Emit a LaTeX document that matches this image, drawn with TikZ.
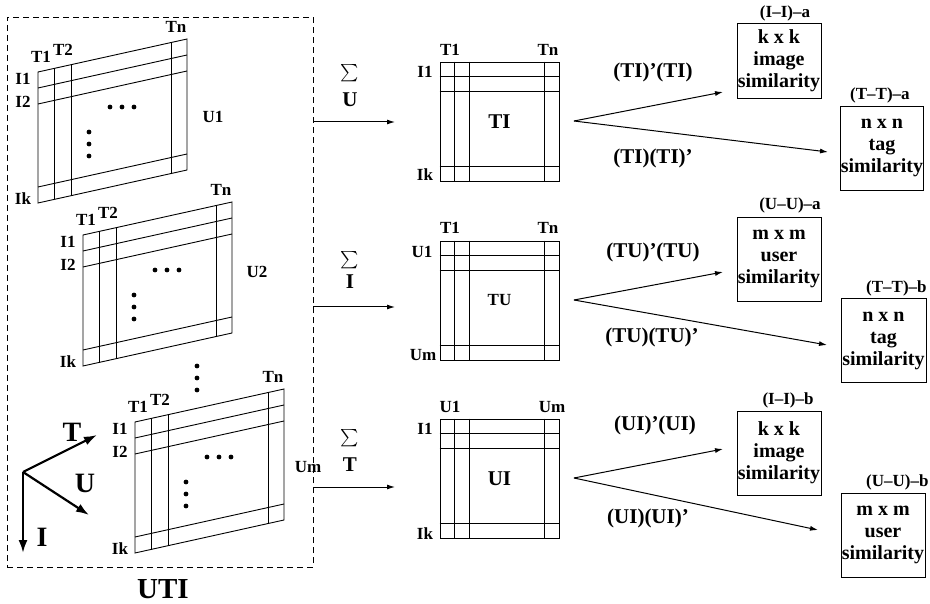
\documentclass[tikz,border=0pt]{standalone}
\usepackage{exscale}
\usepackage{fontspec}
\setmainfont{Liberation Serif}
\usetikzlibrary{arrows.meta, positioning, calc}

\begin{document}
\begin{tikzpicture}[x=1pt, y=-1pt,
      lbl/.style={font=\fontsize{17}{17}\selectfont\bfseries, inner sep=0pt},
      bigl/.style={font=\fontsize{21}{21}\selectfont\bfseries, inner sep=0pt},
      sumsym/.style={font=\fontsize{18}{18}\selectfont, inner sep=0pt},
      grid/.style={draw=black, line width=0.9pt},
      mat/.style={grid, minimum width=119pt, minimum height=119pt, inner sep=0pt, font=\fontsize{21}{21}\selectfont\bfseries},
      simbox/.style={draw=black, line width=0.9pt, minimum width=84pt, minimum height=84pt, inner sep=0pt,
      align=center, font=\fontsize{20}{22}\selectfont\bfseries},
      arrow/.style={-{Latex[length=8pt, width=5pt]}, line width=1pt},
      axis/.style={-{Latex[length=13pt, width=9pt]}, line width=2.2pt}
    ]
    \useasboundingbox (0,0) rectangle (930,604);

    \node[draw, line width=0.9pt, dash pattern=on 6pt off 4pt, minimum width=306pt, minimum height=550pt, inner sep=0pt] (uti) at (160,292) {};
    \node[font=\fontsize{29}{29}\selectfont\bfseries, inner sep=0pt] (uti-l) at (163,589) {UTI};

    \foreach \ox/\oy/\ul/\ux/\uy/\k in {38/72/U1/175/45/1, 83/235/U2/174/37/2, 135/422/Um/173/45/3} {
      \begin{scope}[shift={(\ox,\oy)}]
        \begin{scope}[yslant=0.2215]
          \draw[grid] (0,0) -- (149,0) -- (149,131) -- (0,131) -- cycle;
          \foreach \a in {16,33,133} \draw[grid] (\a,0) -- (\a,131);
          \foreach \b in {16,32,115} \draw[grid] (0,\b) -- (149,\b);
        \end{scope}
        \foreach \d in {72,84,96} \fill (\d,35) circle[radius=2.4pt];
        \foreach \d in {60,72,84} \fill (51,\d) circle[radius=2.4pt];
        \node[lbl] (s\k-t1) at (3,-15) {T1};
        \node[lbl] (s\k-t2) at (25,-22) {T2};
        \node[lbl] (s\k-tn) at (138,-45) {Tn};
        \node[lbl] (s\k-i1) at (-15,7) {I1};
        \node[lbl] (s\k-i2) at (-15,30) {I2};
        \node[lbl] (s\k-ik) at (-15,127) {Ik};
        \node[lbl] (s\k-u) at (\ux,\uy) {\ul};
      \end{scope}
    }
    \foreach \d in {366,378,390} \fill (197,\d) circle[radius=2.4pt];

    \coordinate (ax) at (23,472);
    \coordinate (ax-t) at (97,435);
    \coordinate (ax-u) at (89,515);
    \coordinate (ax-i) at (23,553);
    \draw[axis] (ax) -- (ax-t);
    \draw[axis] (ax) -- (ax-u);
    \draw[axis] (ax) -- (ax-i);
    \node[font=\fontsize{28}{28}\selectfont\bfseries, inner sep=0pt] (ax-tl) at (72,432) {T};
    \node[font=\fontsize{28}{28}\selectfont\bfseries, inner sep=0pt] (ax-ul) at (85,483) {U};
    \node[font=\fontsize{28}{28}\selectfont\bfseries, inner sep=0pt] (ax-il) at (42,537) {I};

    \node[mat] (ti) at (499.5,121.5) {TI};
    \node[mat, font=\fontsize{17}{17}\selectfont\bfseries] (tu) at (499.5,300.5) {TU};
    \node[mat] (ui) at (499.5,478.5) {UI};
    \foreach \m in {ti,tu,ui} {
      \draw[grid] ([xshift=15pt]\m.north west) -- ([xshift=15pt]\m.south west);
      \draw[grid] ([xshift=30pt]\m.north west) -- ([xshift=30pt]\m.south west);
      \draw[grid] ([xshift=-15pt]\m.north east) -- ([xshift=-15pt]\m.south east);
      \draw[grid] ([yshift=-15pt]\m.north west) -- ([yshift=-15pt]\m.north east);
      \draw[grid] ([yshift=-30pt]\m.north west) -- ([yshift=-30pt]\m.north east);
      \draw[grid] ([yshift=15pt]\m.south west) -- ([yshift=15pt]\m.south east);
    }
    \node[lbl] (ti-t1) at (450,50) {T1};
    \node[lbl] (ti-tn) at (548,50) {Tn};
    \node[lbl] (ti-i1) at (425,72) {I1};
    \node[lbl] (ti-ik) at (425,175) {Ik};
    \node[lbl] (tu-t1) at (450,228) {T1};
    \node[lbl] (tu-tn) at (548,228) {Tn};
    \node[lbl] (tu-u1) at (422,252) {U1};
    \node[lbl] (tu-um) at (423,355) {Um};
    \node[lbl] (ui-u1) at (450,407) {U1};
    \node[lbl] (ui-um) at (552,407) {Um};
    \node[lbl] (ui-i1) at (425,429) {I1};
    \node[lbl] (ui-ik) at (425,534) {Ik};

    \coordinate (e1) at (395,122);
    \coordinate (e2) at (395,307);
    \coordinate (e3) at (395,487);
    \draw[arrow] (uti.east |- e1) -- (e1);
    \draw[arrow] (uti.east |- e2) -- (e2);
    \draw[arrow] (uti.east |- e3) -- (e3);
    \node[sumsym] (sum1) at (350,73) {$\sum$};
    \node[bigl] (sum1-l) at (350,100) {U};
    \node[sumsym] (sum2) at (350,260) {$\sum$};
    \node[bigl] (sum2-l) at (350,282) {I};
    \node[sumsym] (sum3) at (350,438) {$\sum$};
    \node[bigl] (sum3-l) at (350,465) {T};

    \node[simbox, minimum height=75pt] (iia) at (779,60.5) {k x k\\image\\similarity};
    \node[simbox, minimum width=82pt] (tta) at (882,148) {n x n\\tag\\similarity};
    \node[simbox] (uua) at (779,259) {m x m\\user\\similarity};
    \node[simbox, minimum width=85pt] (ttb) at (883.5,340.5) {n x n\\tag\\similarity};
    \node[simbox] (iib) at (779,453) {k x k\\image\\similarity};
    \node[simbox] (uub) at (883,535) {m x m\\user\\similarity};
    \node[lbl] (iia-l) at (785,13) {(I–I)–a};
    \node[lbl, anchor=west] (tta-l) at (850,95) {(T–T)–a};
    \node[lbl] (uua-l) at (790,205) {(U–U)–a};
    \node[lbl, anchor=west] (ttb-l) at (866,288) {(T–T)–b};
    \node[lbl] (iib-l) at (788,400) {(I–I)–b};
    \node[lbl, anchor=west] (uub-l) at (866,482) {(U–U)–b};

    \coordinate (f1) at (574,121);
    \coordinate (f1a) at (723,92);
    \coordinate (f1b) at (828,152);
    \coordinate (f2) at (574,300);
    \coordinate (f2a) at (723,272);
    \coordinate (f2b) at (827,345);
    \coordinate (f3) at (574,478);
    \coordinate (f3a) at (723,449);
    \coordinate (f3b) at (818,530);
    \foreach \f in {f1,f2,f3} {
      \draw[arrow] (\f) -- (\f a);
      \draw[arrow] (\f) -- (\f b);
    }
    \node[bigl] (f1a-l) at (653,72) {(TI)’(TI)};
    \node[bigl] (f1b-l) at (653,158) {(TI)(TI)’};
    \node[bigl] (f2a-l) at (653,252) {(TU)’(TU)};
    \node[bigl] (f2b-l) at (652,337) {(TU)(TU)’};
    \node[bigl] (f3a-l) at (655,425) {(UI)’(UI)};
    \node[bigl] (f3b-l) at (648,518) {(UI)(UI)’};
  \end{tikzpicture}
\end{document}
